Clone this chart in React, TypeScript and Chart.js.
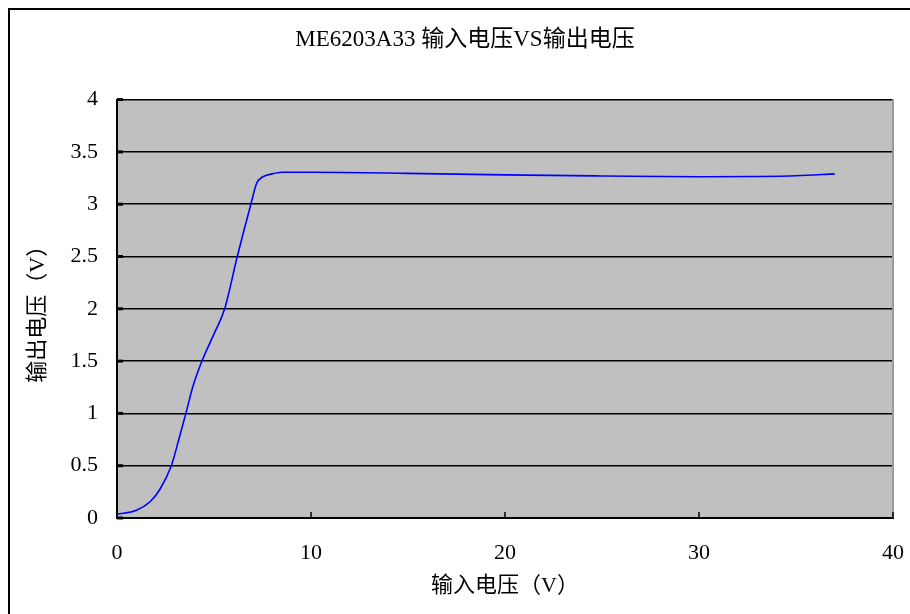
import React, { useEffect, useRef } from "react";
import { Chart, registerables } from "chart.js";

Chart.register(...registerables);

const titleText = "ME6203A33 输入电压VS输出电压";
const xTitle = "输入电压（V）";
const yTitle = "输出电压（V）";

const inputVoltage = [0, 1, 1.7, 2.2, 2.8, 3.2, 3.55, 3.9, 4.4, 5, 5.55, 6.2, 6.9, 7.2, 7.5, 8, 8.5, 10, 15, 20, 25, 30, 33, 35, 37];
const outputVoltage = [0.035, 0.075, 0.155, 0.27, 0.5, 0.76, 1.0, 1.25, 1.51, 1.76, 2.0, 2.5, 3.0, 3.2, 3.26, 3.29, 3.305, 3.305, 3.295, 3.28, 3.27, 3.262, 3.265, 3.272, 3.29];

const xTicks = [0, 10, 20, 30, 40];
const yTicks = [0, 0.5, 1, 1.5, 2, 2.5, 3, 3.5, 4];

const FONT = "'Liberation Serif', 'Noto Sans CJK SC', serif";

const plotDecor = {
  id: "plotDecor",
  beforeDraw(chart: any) {
    const { ctx, chartArea } = chart;
    ctx.save();
    ctx.fillStyle = "#c0c0c0";
    ctx.fillRect(chartArea.left, chartArea.top, chartArea.right - chartArea.left, chartArea.bottom - chartArea.top);
    ctx.restore();
  },
  beforeDatasetsDraw(chart: any) {
    const { ctx, chartArea, scales } = chart;
    ctx.save();
    ctx.strokeStyle = "#9a9a9a";
    ctx.lineWidth = 2;
    ctx.beginPath();
    ctx.moveTo(chartArea.right, chartArea.top);
    ctx.lineTo(chartArea.right, chartArea.bottom);
    ctx.stroke();
    ctx.strokeStyle = "#000";
    ctx.lineWidth = 1.5;
    for (const t of xTicks) {
      const px = scales.x.getPixelForValue(t);
      ctx.beginPath();
      ctx.moveTo(px, chartArea.bottom);
      ctx.lineTo(px, chartArea.bottom - 6);
      ctx.stroke();
    }
    for (const t of yTicks) {
      const py = scales.y.getPixelForValue(t);
      ctx.lineWidth = 3;
      ctx.beginPath();
      ctx.moveTo(chartArea.left, py);
      ctx.lineTo(chartArea.left + 6, py);
      ctx.stroke();
    }
    ctx.restore();
  },
};

export default function App() {
  const ref = useRef<HTMLCanvasElement>(null);
  useEffect(() => {
    const data = inputVoltage.map((x, i) => ({ x, y: outputVoltage[i] }));
    const chart = new Chart(ref.current!, {
      type: "scatter",
      data: {
        datasets: [
          {
            data,
            showLine: true,
            borderColor: "#0000ff",
            borderWidth: 1.6,
            pointRadius: 0,
            cubicInterpolationMode: "monotone",
            fill: false,
            xAxisID: "x",
            yAxisID: "y",
          },
        ],
      },
      options: {
        animation: false,
        responsive: false,
        maintainAspectRatio: false,
        layout: { padding: { left: 10, right: 0, top: 0, bottom: 8 } },
        plugins: {
          legend: { display: false },
          tooltip: { enabled: false },
          title: {
            display: true,
            text: titleText,
            color: "#000",
            font: { family: FONT, size: 23, weight: "normal" },
            padding: { top: 16, bottom: 46 },
          },
        },
        scales: {
          x: {
            type: "linear",
            min: 0,
            max: 40,
            afterBuildTicks(scale: any) {
              scale.ticks = xTicks.map((v) => ({ value: v }));
            },
            afterFit(scale: any) {
              scale.height = 88;
              scale.paddingLeft = 0;
              scale.paddingRight = 0;
            },
            grid: { display: false, drawTicks: false },
            border: { display: true, color: "#000", width: 2 },
            ticks: {
              color: "#000",
              padding: 22,
              font: { family: FONT, size: 22 },
              callback: (v: any) => String(v),
            },
            title: {
              display: true,
              text: xTitle,
              color: "#000",
              font: { family: FONT, size: 22 },
              padding: { top: 0, bottom: 7 },
            },
          },
          y: {
            type: "linear",
            position: "left",
            min: 0,
            max: 4,
            afterBuildTicks(scale: any) {
              scale.ticks = yTicks.map((v) => ({ value: v }));
            },
            afterFit(scale: any) {
              scale.width = 97;
              scale.paddingTop = 0;
              scale.paddingBottom = 0;
            },
            grid: { color: "#000", lineWidth: 1.6, drawTicks: false },
            border: { display: true, color: "#000", width: 2 },
            ticks: {
              color: "#000",
              padding: 19,
              font: { family: FONT, size: 22 },
              callback: (v: any) => String(v),
            },
            title: {
              display: true,
              text: yTitle,
              color: "#000",
              font: { family: FONT, size: 22 },
              padding: { top: 5, bottom: 0 },
            },
          },
          yRight: {
            type: "linear",
            position: "right",
            min: 0,
            max: 4,
            afterFit(scale: any) {
              scale.width = 17;
              scale.paddingTop = 0;
              scale.paddingBottom = 0;
            },
            grid: { display: false, drawTicks: false },
            border: { display: false },
            ticks: { display: false },
          },
        },
      },
      plugins: [plotDecor],
    });
    return () => chart.destroy();
  }, []);

  return (
    <div
      style={{
        position: "fixed",
        left: 8,
        top: 8,
        width: 902,
        height: 606,
        boxSizing: "border-box",
        borderLeft: "2px solid #000",
        borderTop: "2px solid #000",
        background: "#fff",
        overflow: "hidden",
      }}
    >
      <canvas ref={ref} width={900} height={604} style={{ display: "block" }} />
    </div>
  );
}
